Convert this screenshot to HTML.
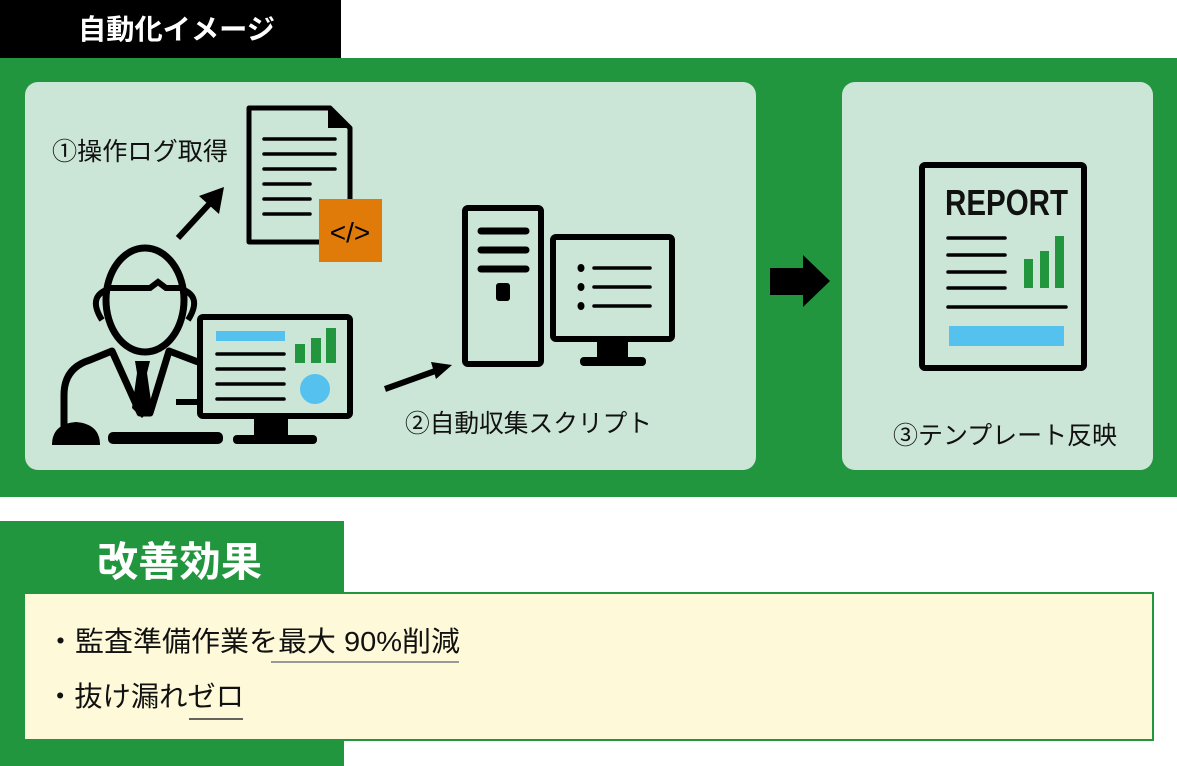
<!DOCTYPE html>
<html><head><meta charset="utf-8"><style>
html,body{margin:0;padding:0;background:#fff;}
svg{display:block;}
text{font-family:"Liberation Sans","Noto Sans CJK JP",sans-serif;}
</style></head><body>
<svg width="1177" height="766" viewBox="0 0 1177 766" xmlns="http://www.w3.org/2000/svg">
<rect x="0" y="0" width="341" height="58" fill="#000"/>
<text x="78" y="39" font-size="28" font-weight="bold" fill="#fff" textLength="197" lengthAdjust="spacingAndGlyphs">自動化イメージ</text>
<rect x="0" y="58" width="1177" height="439" fill="#22963e"/>
<rect x="25" y="82" width="731" height="388" rx="13" fill="#cbe5d6"/>
<rect x="842" y="82" width="311" height="388" rx="13" fill="#cbe5d6"/>

<!-- document -->
<path d="M249,108 H330 L350,128 V242 H249 Z" fill="#cbe5d6" stroke="#000" stroke-width="5" stroke-linejoin="round"/>
<path d="M328,108 L350,128 H328 Z" fill="#000"/>
<g stroke="#000" stroke-width="3.5" stroke-linecap="round">
<line x1="264" y1="139" x2="335" y2="139"/><line x1="264" y1="154" x2="335" y2="154"/><line x1="264" y1="169" x2="335" y2="169"/>
<line x1="264" y1="184" x2="310" y2="184"/><line x1="264" y1="199" x2="310" y2="199"/><line x1="264" y1="214" x2="310" y2="214"/>
</g>
<rect x="319" y="199" width="63" height="63" fill="#e07b0a"/>
<text x="350" y="242" font-size="28" fill="#000" text-anchor="middle">&lt;/&gt;</text>
<text x="52" y="160" font-size="25" fill="#111" textLength="176" lengthAdjust="spacingAndGlyphs">①操作ログ取得</text>
<!-- arrow1 -->
<line x1="178" y1="238" x2="212" y2="201" stroke="#000" stroke-width="6"/>
<polygon points="224,187 219,214 199,196" fill="#000"/>

<!-- person -->
<ellipse cx="145" cy="300" rx="39" ry="52" fill="none" stroke="#000" stroke-width="7"/>
<path d="M107,288 H150 L158,282 L166,288 H184" fill="none" stroke="#000" stroke-width="6"/>
<path d="M106,290 Q88,298 102,320" fill="none" stroke="#000" stroke-width="6"/>
<path d="M184,290 Q202,298 188,320" fill="none" stroke="#000" stroke-width="6"/>
<path d="M64,430 V395 Q64,368 90,360 L112,351 L140,413 L150,413 L169,351 L198,362" fill="none" stroke="#000" stroke-width="7" stroke-linejoin="round"/>
<polygon points="135,361 150,361 147,373 152,408 142,418 132,408 137,373" fill="#000"/>
<path d="M52,445 Q52,424 76,422 Q100,424 100,445 Z" fill="#000"/>
<rect x="108" y="432" width="115" height="12" rx="5" fill="#000"/>
<line x1="176" y1="402" x2="198" y2="402" stroke="#000" stroke-width="6"/>
<rect x="200" y="317" width="150" height="99" rx="3" fill="#cbe5d6" stroke="#000" stroke-width="6"/>
<rect x="254" y="418" width="34" height="17" fill="#000"/>
<rect x="233" y="435" width="84" height="9" rx="4" fill="#000"/>
<rect x="216" y="331" width="69" height="10" fill="#55c1ef"/>
<g stroke="#000" stroke-width="3.5" stroke-linecap="round">
<line x1="217" y1="354" x2="284" y2="354"/><line x1="217" y1="369" x2="284" y2="369"/><line x1="217" y1="384" x2="284" y2="384"/><line x1="217" y1="399" x2="284" y2="399"/>
</g>
<rect x="295" y="344" width="10" height="19" fill="#22963e"/>
<rect x="311" y="338" width="10" height="25" fill="#22963e"/>
<rect x="326" y="328" width="10" height="35" fill="#22963e"/>
<circle cx="315" cy="389" r="15" fill="#55c1ef"/>

<!-- arrow2 -->
<line x1="385" y1="389" x2="438" y2="370" stroke="#000" stroke-width="6"/>
<polygon points="452,365 436,379 431,362" fill="#000"/>
<text x="405" y="432" font-size="25" fill="#111" textLength="247" lengthAdjust="spacingAndGlyphs">②自動収集スクリプト</text>

<!-- server -->
<rect x="465" y="208" width="76" height="156" rx="3" fill="none" stroke="#000" stroke-width="6"/>
<g stroke="#000" stroke-width="7" stroke-linecap="round">
<line x1="481" y1="231" x2="526" y2="231"/><line x1="481" y1="250" x2="526" y2="250"/><line x1="481" y1="269" x2="526" y2="269"/>
</g>
<rect x="496" y="283" width="14" height="18" rx="3" fill="#000"/>
<rect x="553" y="237" width="119" height="102" rx="3" fill="none" stroke="#000" stroke-width="6"/>
<rect x="597" y="340" width="31" height="20" fill="#000"/>
<rect x="580" y="357" width="66" height="9" rx="4" fill="#000"/>
<g fill="#000"><ellipse cx="581" cy="268" rx="3.5" ry="4"/><ellipse cx="581" cy="287" rx="3.5" ry="4"/><ellipse cx="581" cy="306" rx="3.5" ry="4"/></g>
<g stroke="#000" stroke-width="3.5" stroke-linecap="round">
<line x1="594" y1="268" x2="650" y2="268"/><line x1="594" y1="287" x2="650" y2="287"/><line x1="594" y1="306" x2="650" y2="306"/>
</g>

<!-- big arrow -->
<rect x="770" y="268" width="34" height="27" fill="#000"/>
<polygon points="803,255 830,281 803,307" fill="#000"/>

<!-- report -->
<rect x="922" y="165" width="162" height="203" rx="3" fill="none" stroke="#000" stroke-width="6"/>
<text x="945" y="215" font-size="36" font-weight="bold" fill="#111" textLength="123" lengthAdjust="spacingAndGlyphs">REPORT</text>
<g stroke="#000" stroke-width="3.5" stroke-linecap="round">
<line x1="948" y1="238" x2="1005" y2="238"/><line x1="948" y1="255" x2="1005" y2="255"/><line x1="948" y1="272" x2="1005" y2="272"/><line x1="948" y1="288" x2="1005" y2="288"/>
<line x1="948" y1="307" x2="1066" y2="307"/>
</g>
<rect x="1024" y="259" width="9" height="29" fill="#22963e"/>
<rect x="1040" y="251" width="9" height="37" fill="#22963e"/>
<rect x="1055" y="236" width="9" height="52" fill="#22963e"/>
<rect x="949" y="326" width="115" height="20" fill="#55c1ef"/>
<text x="893" y="444" font-size="25" fill="#111" textLength="224" lengthAdjust="spacingAndGlyphs">③テンプレート反映</text>

<!-- bottom -->
<rect x="0" y="521" width="344" height="245" fill="#22963e"/>
<text x="97" y="576" font-size="41" font-weight="bold" fill="#fff" textLength="165" lengthAdjust="spacingAndGlyphs">改善効果</text>
<rect x="24" y="593" width="1129" height="147" fill="#fdf9d9" stroke="#22963e" stroke-width="2"/>
<text x="46" y="651" font-size="28" fill="#111" textLength="414" lengthAdjust="spacingAndGlyphs">・監査準備作業を最大 90%削減</text>
<line x1="271" y1="662" x2="459" y2="662" stroke="#999" stroke-width="2"/>
<text x="46" y="706" font-size="28" fill="#111" textLength="198" lengthAdjust="spacingAndGlyphs">・抜け漏れゼロ</text>
<line x1="189" y1="719" x2="243" y2="719" stroke="#333" stroke-width="1.5"/>
</svg>
</body></html>
